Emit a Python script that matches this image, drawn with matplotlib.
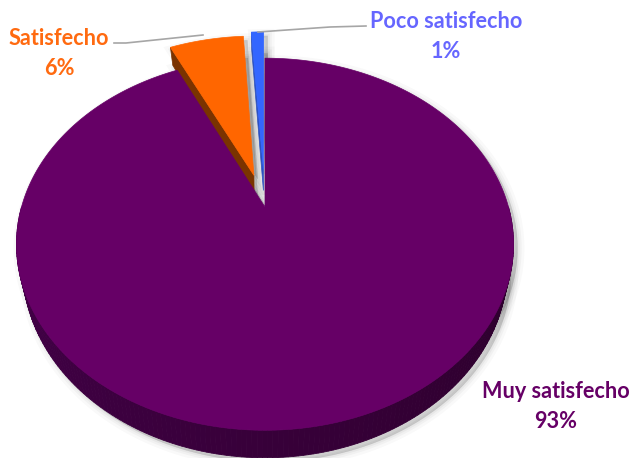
import numpy as np
import matplotlib.pyplot as plt
from matplotlib.colors import to_rgb
from matplotlib.patches import Polygon

# satisfaction survey results
labels = ["Muy satisfecho", "Satisfecho", "Poco satisfecho"]
shares = [93, 6, 1]
explode = [0.0, 0.19, 0.22]

top_colors = ["#660066", "#FF6600", "#3366FF"]
side_dark = ["#2a0029", "#6a2900", "#1a3a9a"]
side_light = ["#45004a", "#7a3300", "#2a50c0"]
label_colors = ["#660066", "#FF6A10", "#6666FF"]

# perspective projection of the pie disk (pixel space)
CX, CY = 265, 207
A, B = 243.5, 178.6
K = 0.2
DEPTH = 22
SHRINK = 0.975  # bottom rim converges a little


def project(X, Y, z=0.0):
    s = 1.0 / (1.0 - K * Y)
    sx = 1.0 - z * (1.0 - SHRINK)
    return CX + A * X * s * sx, CY + B * Y * s + z * DEPTH * s


def disk(t, r=1.0, off=(0.0, 0.0)):
    t = np.radians(t)
    return off[0] + r * np.sin(t), off[1] - r * np.cos(t)


fig = plt.figure(figsize=(6.33, 4.58), dpi=100)
ax = fig.add_axes([0, 0, 1, 1])
ax.set_xlim(0, 633)
ax.set_ylim(458, 0)
ax.axis("off")

bounds = np.concatenate([[0], np.cumsum(shares)]) * 3.6
slices = []
for i in range(len(shares)):
    t0, t1 = bounds[i], bounds[i + 1]
    mid = np.radians((t0 + t1) / 2)
    off = (explode[i] * np.sin(mid), -explode[i] * np.cos(mid))
    slices.append((t0, t1, off))


def face(t0, t1, off, z):
    ts = np.linspace(t0, t1, max(int((t1 - t0) * 2), 4))
    X, Y = disk(ts, 1.0, off)
    px, py = project(X, Y, z)
    ax_, ay_ = project(off[0], off[1], z)
    return np.column_stack([np.r_[ax_, px], np.r_[ay_, py]])


# soft drop shadow
for t0, t1, off in slices:
    for z in (0, 1):
        pts = face(t0, t1, off, z) + [4, 4]
        for lw, al in [(10, 0.025), (6, 0.03), (3, 0.04), (0.5, 0.05)]:
            ax.add_patch(Polygon(pts, closed=True, facecolor="#000000",
                                 edgecolor="#000000", lw=lw, alpha=al, zorder=1))

# back slices first, the big one last
for i in [1, 2, 0]:
    t0, t1, off = slices[i]
    z0 = 2 + (i == 0) * 3
    # radial cut faces
    for t, vis in [(t0, np.sin(np.radians(t0)) < -1e-6),
                   (t1, np.sin(np.radians(t1)) > 1e-6)]:
        if not vis:
            continue
        X, Y = disk(t, 1.0, off)
        p1 = project(X, Y, 0)
        p2 = project(X, Y, 1)
        c1 = project(off[0], off[1], 0)
        c2 = project(off[0], off[1], 1)
        ax.add_patch(Polygon([c1, p1, p2, c2], closed=True,
                             facecolor=side_light[i], edgecolor=side_light[i],
                             lw=0.5, zorder=z0))
    # outer wall, visible along the front half
    lo, hi = max(t0, 90), min(t1, 270)
    if hi > lo:
        ts = np.linspace(lo, hi, int(hi - lo) + 2)
        X, Y = disk(ts, 1.0, off)
        tx, ty = project(X, Y, 0)
        bx, by = project(X, Y, 1)
        c_l = np.array(to_rgb(side_light[i]))
        c_d = np.array(to_rgb(side_dark[i]))
        for j in range(len(ts) - 1):
            f = (ts[j] - 90) / 180.0
            col = c_d * (1 - f) + c_l * f
            quad = [(tx[j], ty[j]), (tx[j + 1], ty[j + 1]),
                    (bx[j + 1], by[j + 1]), (bx[j], by[j])]
            ax.add_patch(Polygon(quad, closed=True, facecolor=col,
                                 edgecolor=col, lw=0.6, zorder=z0))
    ax.add_patch(Polygon(face(t0, t1, off, 0), closed=True,
                         facecolor=top_colors[i], edgecolor=top_colors[i],
                         lw=0.5, zorder=z0 + 1))

# leader lines
ax.plot([114, 126, 203], [43, 43, 35], color="#a6a6a6", lw=1.2, zorder=10)
ax.plot([258, 330, 366], [32, 27, 26], color="#a6a6a6", lw=1.2, zorder=10)

font = dict(family="Lato", weight="bold", fontsize=15.6, ha="center", va="baseline")
label_pos = [(556, 398), (59, 45), (446, 28)]
for i, (x, y) in enumerate(label_pos):
    ax.text(x, y, labels[i], color=label_colors[i], zorder=11, **font)
    ax.text(x, y + 30, f"{shares[i]}%", color=label_colors[i], zorder=11, **font)

fig.savefig("out.png", dpi=100)
